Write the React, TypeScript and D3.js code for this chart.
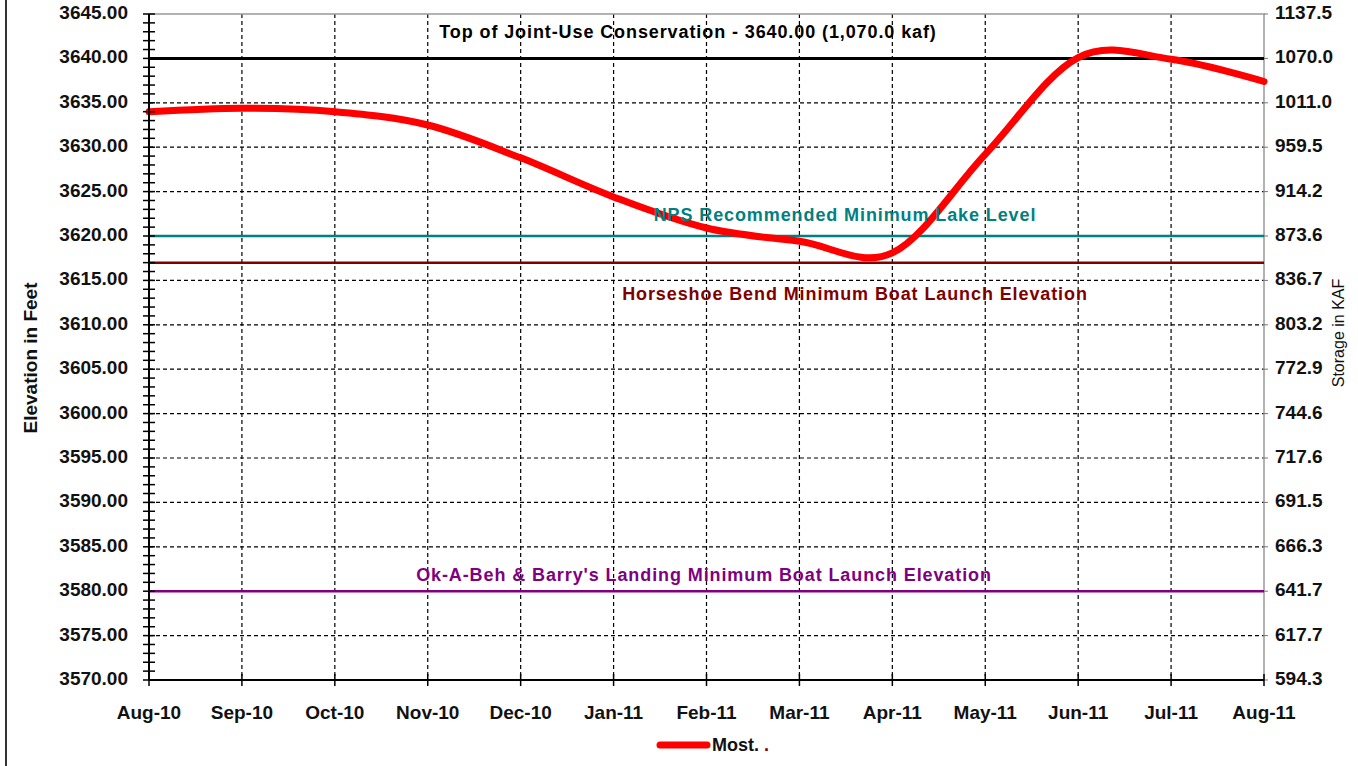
import React, { useEffect, useRef } from 'react';
import * as d3 from 'd3';

// months on the category axis
const months = [
  'Aug-10', 'Sep-10', 'Oct-10', 'Nov-10', 'Dec-10', 'Jan-11', 'Feb-11',
  'Mar-11', 'Apr-11', 'May-11', 'Jun-11', 'Jul-11', 'Aug-11',
];

// "Most." probable elevation (feet)
const mostElevation = [
  3634.0, 3634.4, 3634.0, 3632.5, 3628.8, 3624.4, 3620.9,
  3619.4, 3618.1, 3629.2, 3640.1, 3639.9, 3637.4,
];

const elevationTicks = [
  3645, 3640, 3635, 3630, 3625, 3620, 3615, 3610,
  3605, 3600, 3595, 3590, 3585, 3580, 3575, 3570,
];

const storageTicks = [
  '1137.5', '1070.0', '1011.0', '959.5', '914.2', '873.6', '836.7', '803.2',
  '772.9', '744.6', '717.6', '691.5', '666.3', '641.7', '617.7', '594.3',
];

// reference elevations; labelY is the text baseline in feet
const refLines = [
  { value: 3640, label: 'Top of Joint-Use Conservation - 3640.00 (1,070.0 kaf)', color: '#000000', labelY: 3642.35, labelX: 688, width: 3 },
  { value: 3620, label: 'NPS Recommended Minimum Lake Level', color: '#008080', labelY: 3621.7, labelX: 845, width: 2.5 },
  { value: 3617, label: 'Horseshoe Bend Minimum Boat Launch Elevation', color: '#800000', labelY: 3612.8, labelX: 855, width: 2.5 },
  { value: 3580, label: "Ok-A-Beh & Barry's Landing Minimum Boat Launch Elevation", color: '#800080', labelY: 3581.2, labelX: 704, width: 2.5 },
];

const W = 1358;
const H = 766;
const FONT = 'Arial, "Liberation Sans", sans-serif';

export default function App() {
  const ref = useRef<SVGSVGElement>(null);

  useEffect(() => {
    const svg = d3.select(ref.current);
    svg.selectAll('*').remove();

    const left = 149, right = 1264, top = 14, bottom = 680;

    const x = d3.scalePoint<string>().domain(months).range([left, right]);
    const y = d3.scaleLinear().domain([3570, 3645]).range([bottom, top]);

    // frame line on the far left
    svg.append('line')
      .attr('x1', 6).attr('x2', 6).attr('y1', 0).attr('y2', H)
      .attr('stroke', '#333').attr('stroke-width', 2);

    // dashed grid
    const grid = svg.append('g');
    grid.selectAll('line.h')
      .data(elevationTicks.filter(d => d !== 3570 && d !== 3645))
      .enter().append('line')
      .attr('x1', left).attr('x2', right)
      .attr('y1', d => y(d)).attr('y2', d => y(d))
      .attr('stroke', '#000').attr('stroke-width', 1.2)
      .attr('stroke-dasharray', '4,3');
    grid.selectAll('line.v')
      .data(months.slice(1, -1))
      .enter().append('line')
      .attr('x1', d => x(d)!).attr('x2', d => x(d)!)
      .attr('y1', top).attr('y2', bottom)
      .attr('stroke', '#000').attr('stroke-width', 1.2)
      .attr('stroke-dasharray', '4,3');

    // plot border (top & right grey)
    svg.append('path')
      .attr('d', `M${left},${top}H${right}V${bottom}`)
      .attr('fill', 'none').attr('stroke', '#999').attr('stroke-width', 1.5);

    // reference lines
    refLines.forEach(r => {
      svg.append('line')
        .attr('x1', left).attr('x2', right)
        .attr('y1', y(r.value)).attr('y2', y(r.value))
        .attr('stroke', r.color).attr('stroke-width', r.width);
    });

    // series
    const line = d3.line<number>()
      .x((_, i) => x(months[i])!)
      .y(d => y(d))
      .curve(d3.curveCardinal.tension(0));
    svg.append('path')
      .datum(mostElevation)
      .attr('d', line)
      .attr('fill', 'none')
      .attr('stroke', '#ff0000')
      .attr('stroke-width', 7)
      .attr('stroke-linecap', 'round');

    // reference labels (drawn above the series)
    refLines.forEach(r => {
      svg.append('text')
        .attr('x', r.labelX).attr('y', y(r.labelY))
        .attr('text-anchor', 'middle')
        .attr('font-family', FONT).attr('font-size', 18)
        .attr('font-weight', 'bold')
        .attr('letter-spacing', 0.9)
        .attr('fill', r.color)
        .text(r.label);
    });

    // left axis
    svg.append('line')
      .attr('x1', left).attr('x2', left).attr('y1', top).attr('y2', bottom)
      .attr('stroke', '#000').attr('stroke-width', 2);
    const minor = d3.range(3570, 3646, 1);
    svg.append('g').selectAll('line')
      .data(minor).enter().append('line')
      .attr('x1', left - 6).attr('x2', left + 6)
      .attr('y1', d => y(d)).attr('y2', d => y(d))
      .attr('stroke', '#000').attr('stroke-width', 1.5);
    svg.append('g').selectAll('text')
      .data(elevationTicks).enter().append('text')
      .attr('x', 128).attr('y', d => y(d))
      .attr('text-anchor', 'end').attr('dominant-baseline', 'middle')
      .attr('font-family', FONT).attr('font-size', 19).attr('font-weight', 'bold')
      .attr('fill', '#111')
      .text(d => d3.format('.2f')(d));

    // right axis labels
    svg.append('g').selectAll('text')
      .data(storageTicks).enter().append('text')
      .attr('x', 1275).attr('y', (_, i) => y(elevationTicks[i]))
      .attr('dominant-baseline', 'middle')
      .attr('font-family', FONT).attr('font-size', 19).attr('font-weight', 'bold')
      .attr('fill', '#111')
      .text(d => d);
    svg.append('g').selectAll('line')
      .data(elevationTicks).enter().append('line')
      .attr('x1', right).attr('x2', right + 4)
      .attr('y1', d => y(d)).attr('y2', d => y(d))
      .attr('stroke', '#777').attr('stroke-width', 1);

    // bottom axis
    svg.append('line')
      .attr('x1', left).attr('x2', right).attr('y1', bottom).attr('y2', bottom)
      .attr('stroke', '#000').attr('stroke-width', 2);
    svg.append('g').selectAll('line')
      .data(months).enter().append('line')
      .attr('x1', d => x(d)!).attr('x2', d => x(d)!)
      .attr('y1', bottom - 6).attr('y2', bottom + 6)
      .attr('stroke', '#000').attr('stroke-width', 1.5);
    svg.append('g').selectAll('text')
      .data(months).enter().append('text')
      .attr('x', d => x(d)!).attr('y', 719)
      .attr('text-anchor', 'middle')
      .attr('font-family', FONT).attr('font-size', 19).attr('font-weight', 'bold')
      .attr('fill', '#111')
      .text(d => d);

    // axis titles
    svg.append('text')
      .attr('transform', 'translate(37,358) rotate(-90)')
      .attr('text-anchor', 'middle')
      .attr('font-family', FONT).attr('font-size', 19).attr('font-weight', 'bold')
      .attr('fill', '#111')
      .text('Elevation in Feet');
    svg.append('text')
      .attr('transform', 'translate(1344,333) rotate(-90)')
      .attr('text-anchor', 'middle')
      .attr('font-family', FONT).attr('font-size', 16)
      .attr('fill', '#111')
      .text('Storage in KAF');

    // legend
    svg.append('line')
      .attr('x1', 660).attr('x2', 707).attr('y1', 745).attr('y2', 745)
      .attr('stroke', '#ff0000').attr('stroke-width', 7).attr('stroke-linecap', 'round');
    const lg = svg.append('text')
      .attr('x', 712).attr('y', 751)
      .attr('font-family', FONT).attr('font-size', 18).attr('font-weight', 'bold')
      .attr('fill', '#111');
    lg.append('tspan').text('Most.');
    lg.append('tspan').attr('fill', '#800000').attr('dx', 5).text('.');
  }, []);

  return (
    <svg
      ref={ref}
      width={W}
      height={H}
      style={{ position: 'absolute', left: 0, top: 0, background: '#fff' }}
    />
  );
}
